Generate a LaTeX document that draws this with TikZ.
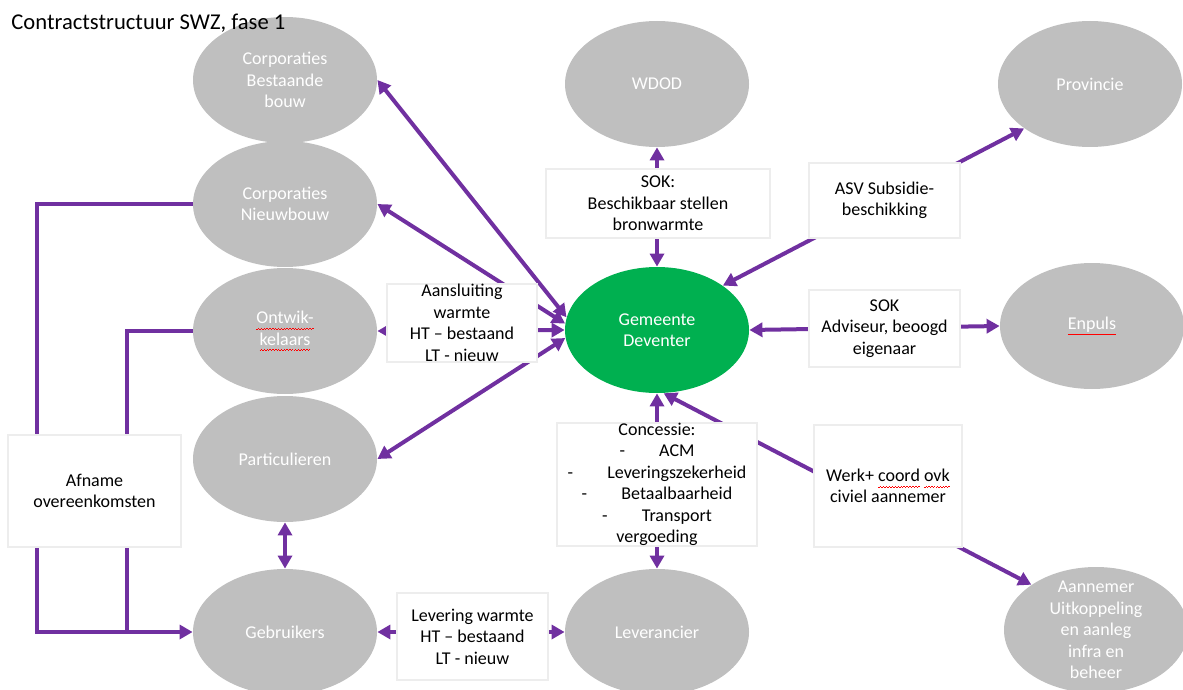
\documentclass[tikz,border=0pt]{standalone}
\usepackage{fontspec}
\setmainfont{Carlito}
\usetikzlibrary{shapes.geometric,arrows.meta}
\definecolor{swzpurple}{HTML}{7030A0}
\definecolor{swzgrey}{HTML}{BFBFBF}
\definecolor{swzgreen}{HTML}{00B050}
\definecolor{swzframe}{HTML}{EDEDED}
\newcommand\wavebit{\hbox{\rule[-2.9pt]{0.7pt}{0.35pt}\rule[-2.5pt]{0.7pt}{0.35pt}}}
\newcommand\spelling[1]{\leavevmode\setbox0\hbox{#1}\rlap{\hbox to\wd0{\color{red}\xleaders\wavebit\hfil}}\box0\relax}
\tikzset{
    party/.style={ellipse, fill=swzgrey, text=white, minimum width=92pt, minimum height=63pt,
        inner sep=0pt, align=center, font=\fontsize{9}{10.75}\selectfont},
    partytext/.style={text=white, inner sep=0pt, align=center, font=\fontsize{9}{10.75}\selectfont},
    deal/.style={rectangle, draw=swzframe, line width=1pt, fill=white, text=black,
        inner sep=0pt, align=center, font=\fontsize{9}{10.75}\selectfont},
    biarr/.style={swzpurple, line width=2pt,
        {Triangle[length=6.5pt,width=7pt]}-{Triangle[length=6.5pt,width=7pt]}},
    arr/.style={swzpurple, line width=2pt, -{Triangle[length=6.5pt,width=7pt]}},
    wire/.style={swzpurple, line width=2pt}
}
\begin{document}
\begin{tikzpicture}[x=0.5pt,y=-0.5pt]
                \useasboundingbox (0,0) rectangle (1183,690);
                \node [party] (cb) at (285,80) {Corporaties\\Bestaande\\bouw};
                \node [party] (cn) at (285,204) {Corporaties\\Nieuwbouw};
                \node [party] (ont) at (285,331) {\spelling{Ontwik-}\\\spelling{kelaars}};
                \node [party] (par) at (285,459) {Particulieren};
                \node [party] (geb) at (285,632) {Gebruikers};
                \node [party] (wdod) at (657,84) {WDOD};
                \node [party, fill=swzgreen] (gem) at (657,330) {Gemeente\\Deventer};
                \node [party] (lev) at (657,632) {Leverancier};
                \node [party] (prov) at (1090,84) {Provincie};
                \node [party] (enp) at (1092,326) {\spelling{Enpuls}};
                \node [party, label={[partytext]center:Aannemer\\Uitkoppeling\\en aanleg\\infra en\\beheer}] (ann) at (1096,630) {};
                \coordinate (kl) at (37,632);
                \coordinate (kr) at (127,632);
                \draw [biarr] (cb.east) -- (gem.172);
                \draw [biarr] (cn.east) -- (gem.176);
                \draw [biarr] (ont.east) -- (gem.180);
                \draw [biarr] (par.east) -- (gem.185);
                \draw [biarr] (wdod.south) -- (gem.north);
                \draw [biarr] (prov.-146) -- (gem.34);
                \draw [biarr] (gem.east) -- (enp.west);
                \draw [biarr] (gem.south) -- (lev.north);
                \draw [biarr] (gem.-84) -- (ann.145);
                \draw [biarr] (par.south) -- (geb.north);
                \draw [biarr] (geb.east) -- (lev.west);
                \draw [arr] (cn.west) -| (kl) -- (geb.west);
                \draw [wire] (ont.west) -| (kr);
                \node [deal, minimum width=75pt, minimum height=38.5pt] (aansl) at (462,323) {Aansluiting\\warmte\\HT -- bestaand\\LT - nieuw};
                \node [deal, minimum width=112pt, minimum height=34.5pt] (sok) at (658,203.5) {SOK:\\Beschikbaar stellen\\bronwarmte};
                \node [deal, minimum width=100pt, minimum height=60.5pt] (conc) at (657,484.5) {Concessie:\\-\hspace{1.9em}ACM\\-\hspace{1.9em}Leveringszekerheid\\-\hspace{1.9em}Betaalbaarheid\\-\hspace{1.9em}Transport\\vergoeding};
                \node [deal, minimum width=75.5pt, minimum height=37.5pt] (asv) at (884.5,200.5) {ASV Subsidie-\\beschikking};
                \node [deal, minimum width=75.5pt, minimum height=38.5pt] (sokadv) at (884.5,328.5) {SOK\\Adviseur, beoogd\\eigenaar};
                \node [deal, minimum width=74pt, minimum height=61pt] (werk) at (888,486) {Werk+ \spelling{coord} \spelling{ovk}\\civiel aannemer};
                \node [deal, minimum width=86.5pt, minimum height=56pt] (afn) at (94.5,491) {Afname\\overeenkomsten};
                \node [deal, minimum width=75.5pt, minimum height=43.5pt] (lwarm) at (472.5,636.5) {Levering warmte\\HT -- bestaand\\LT - nieuw};
                \node [anchor=base west, inner sep=0pt, font=\fontsize{11.3}{13}\selectfont] (title) at (11,30) {Contractstructuur SWZ, fase 1};
            \end{tikzpicture}
\end{document}
